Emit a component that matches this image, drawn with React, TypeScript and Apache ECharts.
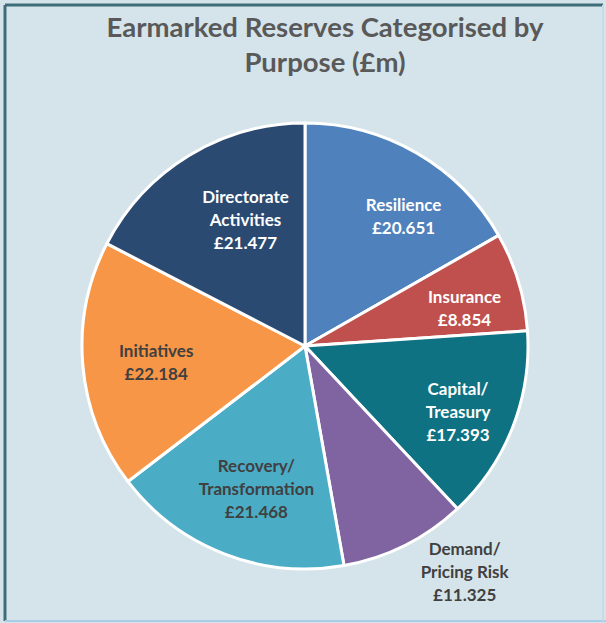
import React, { useEffect, useRef } from "react";
import * as echarts from "echarts";

const categories = [
  "Resilience",
  "Insurance",
  "Capital/\nTreasury",
  "Demand/\nPricing Risk",
  "Recovery/\nTransformation",
  "Initiatives",
  "Directorate\nActivities",
];
const values = [20.651, 8.854, 17.393, 11.325, 21.468, 22.184, 21.477];
const colors = ["#4f81bd", "#c0504d", "#0e7282", "#8064a2", "#4bacc6", "#f79646", "#2a4a72"];
const labelColors = ["#ffffff", "#ffffff", "#ffffff", "#404040", "#404040", "#404040", "#ffffff"];
const titleText = "Earmarked Reserves Categorised by\nPurpose (£m)";

// label nudges (best-fit style placement like the original)
const LABEL_NUDGE: [number, number][] = [
  [16, 12],
  [2, 10],
  [0, 5],
  [86, 78],
  [11, -11],
  [15, 2],
  [26, 14],
];

const FONT = "Lato, 'Open Sans', sans-serif";

export default function App() {
  const ref = useRef<HTMLDivElement>(null);
  useEffect(() => {
    document.body.style.margin = "0";
    if (!ref.current) return;
    const chart = echarts.init(ref.current, undefined, { renderer: "svg" });
    const data = categories.map((name, i) => ({
      name,
      value: values[i],
      itemStyle: { color: colors[i] },
    }));
    const labelData = categories.map((name, i) => ({
      name,
      value: values[i],
      label: { color: labelColors[i], offset: LABEL_NUDGE[i] },
    }));
    chart.setOption({
      animation: false,
      backgroundColor: "#d5e4ea",
      title: {
        text: titleText,
        left: 320,
        top: 4,
        textAlign: "center",
        textStyle: {
          fontFamily: FONT,
          fontSize: 27.5,
          fontWeight: "bold",
          color: "#595959",
          lineHeight: 35,
        },
      },
      graphic: [
        { type: "line", shape: { x1: 5, y1: 5, x2: 603, y2: 5 }, style: { stroke: "#3e6c77", lineWidth: 3 } },
        { type: "line", shape: { x1: 5, y1: 5, x2: 5, y2: 621 }, style: { stroke: "#3e6c77", lineWidth: 3 } },
        { type: "line", shape: { x1: 5, y1: 621, x2: 606, y2: 621 }, style: { stroke: "#a9cde6", lineWidth: 2 } },
        { type: "line", shape: { x1: 603, y1: 5, x2: 603, y2: 621 }, style: { stroke: "#c6dbe3", lineWidth: 2 } },
      ],
      series: [
        {
          type: "pie",
          center: [305, 346],
          radius: [0, 223],
          startAngle: 90,
          clockwise: true,
          silent: true,
          label: { show: false },
          labelLine: { show: false },
          itemStyle: { borderColor: "#ffffff", borderWidth: 3 },
          data,
        },
        {
          type: "pie",
          center: [305, 346],
          radius: [100, 223],
          startAngle: 90,
          clockwise: true,
          silent: true,
          itemStyle: { color: "rgba(0,0,0,0)" },
          labelLine: { show: false },
          label: {
            show: true,
            position: "inside",
            formatter: (p: any) => `${p.name}\n£${p.value.toFixed(3)}`,
            fontFamily: FONT,
            fontSize: 17,
            fontWeight: "bold",
            lineHeight: 23,
            align: "center",
            textBorderWidth: 0,
          },
          data: labelData,
        },
      ],
    });
    return () => chart.dispose();
  }, []);
  return <div ref={ref} style={{ width: 606, height: 623 }} />;
}
